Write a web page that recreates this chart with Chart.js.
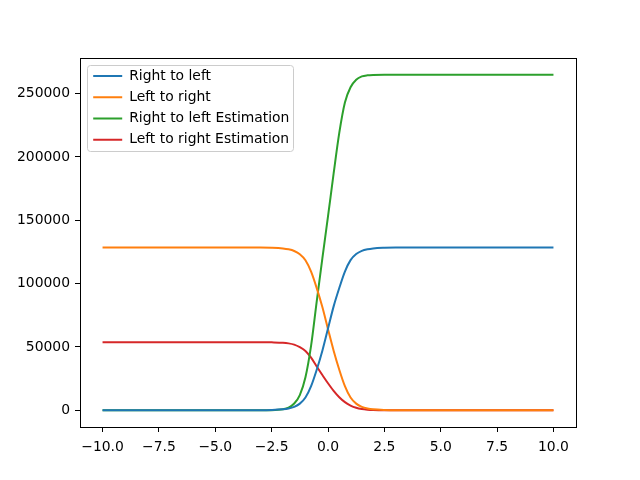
<!DOCTYPE html>
<html>
<head>
<meta charset="utf-8">
<script src="https://cdn.jsdelivr.net/npm/chart.js@4"></script>
<style>
  body { margin: 0; background: #fff; }
  canvas { display: block; }
</style>
</head>
<body>
<canvas id="chart" width="640" height="480"></canvas>
<script>
// sample positions along x
const xs = [-10, -3, -2.5, -2, -1.75, -1.5, -1.25, -1, -0.75, -0.5, -0.25, 0, 0.25, 0.5, 0.75, 1, 1.25, 1.5, 1.75, 2, 2.5, 3, 10];

const rightToLeft = [0, 0, 150, 700, 1400, 2700, 5200, 10000, 19000, 32000, 47000, 64500, 82000, 96500, 109500, 118500, 123300, 125800, 127100, 127800, 128300, 128450, 128450];
const leftToRight = [128450, 128450, 128300, 127750, 127050, 125750, 123250, 118450, 109450, 96450, 81450, 64000, 47000, 32000, 19000, 10000, 5200, 2700, 1400, 700, 150, 0, 0];
const rightToLeftEst = [0, 0, 50, 700, 2000, 5300, 12000, 26000, 51000, 86000, 120000, 153000, 187000, 219000, 243000, 255000, 261000, 263600, 264500, 264800, 264900, 264900, 264900];
const leftToRightEst = [53700, 53700, 53600, 53300, 52800, 51800, 49800, 46800, 41500, 34500, 27800, 21300, 15300, 10300, 6400, 3700, 1900, 900, 400, 150, 0, 0, 0];

const seriesNames = ['Right to left', 'Left to right', 'Right to left Estimation', 'Left to right Estimation'];
const seriesColors = ['#1f77b4', '#ff7f0e', '#2ca02c', '#d62728'];

const xTicks = [-10, -7.5, -5, -2.5, 0, 2.5, 5, 7.5, 10];
const yTicks = [0, 50000, 100000, 150000, 200000, 250000];

const FONT = { family: 'DejaVu Sans', size: 13.9 };

function toPoints(values) {
    return xs.map((x, i) => ({ x: x, y: values[i] }));
}

const allSeries = [rightToLeft, leftToRight, rightToLeftEst, leftToRightEst];

const datasets = allSeries.map((values, i) => ({
    label: seriesNames[i],
    data: toPoints(values),
    borderColor: seriesColors[i],
    backgroundColor: seriesColors[i],
    borderWidth: 2,
    pointRadius: 0,
    fill: false,
    cubicInterpolationMode: 'monotone'
}));

// axes box + legend frame, like matplotlib
const framePlugin = {
    id: 'frame',
    beforeDraw(chart) {
        const ctx = chart.ctx;
        const a = chart.chartArea;
        const lg = chart.legend;
        const pad = lg.options.labels.padding;
        lg.left = a.left + 13.2 - pad;
        lg.top = a.top + 11 - pad;

        ctx.save();
        ctx.beginPath();
        ctx.roundRect(a.left + 7.5, a.top + 7.5, 206, 86, 3);
        ctx.fillStyle = 'rgba(255,255,255,0.8)';
        ctx.fill();
        ctx.strokeStyle = '#cccccc';
        ctx.lineWidth = 1;
        ctx.stroke();
        ctx.restore();
    },
    afterDraw(chart) {
        const ctx = chart.ctx;
        const a = chart.chartArea;
        ctx.save();
        ctx.strokeStyle = '#000';
        ctx.lineWidth = 1;
        ctx.strokeRect(Math.round(a.left) + 0.5, Math.round(a.top) + 0.5,
            Math.round(a.right - a.left), Math.round(a.bottom - a.top));
        ctx.restore();
    }
};

new Chart(document.getElementById('chart'), {
    type: 'line',
    data: { datasets: datasets },
    options: {
        responsive: false,
        animation: false,
        layout: {
            padding: { left: 0, right: 64, top: 58, bottom: 0 }
        },
        plugins: {
            legend: {
                position: 'chartArea',
                align: 'start',
                labels: {
                    font: FONT,
                    color: '#000',
                    boxWidth: 29,
                    boxHeight: 2,
                    padding: 7.4,
                    generateLabels: function(chart) {
                        return Chart.defaults.plugins.legend.labels.generateLabels(chart).map(l => {
                            l.lineWidth = 0;
                            l.fillStyle = l.strokeStyle;
                            return l;
                        });
                    }
                }
            },
            tooltip: { enabled: false }
        },
        scales: {
            x: {
                type: 'linear',
                min: -11,
                max: 11,
                afterBuildTicks: function(scale) {
                    scale.ticks = xTicks.map(v => ({ value: v }));
                },
                afterFit: function(scale) {
                    scale.height = 53;
                },
                border: { display: false },
                grid: {
                    drawOnChartArea: false,
                    drawTicks: true,
                    tickLength: 5,
                    color: '#000',
                    lineWidth: 1
                },
                ticks: {
                    font: FONT,
                    color: '#000',
                    padding: 7,
                    maxRotation: 0,
                    autoSkip: false,
                    callback: function(v) {
                        return v.toFixed(1).replace('-', '\u2212');
                    }
                }
            },
            y: {
                type: 'linear',
                min: -13245,
                max: 278145,
                afterBuildTicks: function(scale) {
                    scale.ticks = yTicks.map(v => ({ value: v }));
                },
                afterFit: function(scale) {
                    scale.width = 80;
                },
                border: { display: false },
                grid: {
                    drawOnChartArea: false,
                    drawTicks: true,
                    tickLength: 5,
                    color: '#000',
                    lineWidth: 1
                },
                ticks: {
                    font: FONT,
                    color: '#000',
                    padding: 5,
                    autoSkip: false,
                    callback: function(v) {
                        return String(v);
                    }
                }
            }
        }
    },
    plugins: [framePlugin]
});
</script>
</body>
</html>
